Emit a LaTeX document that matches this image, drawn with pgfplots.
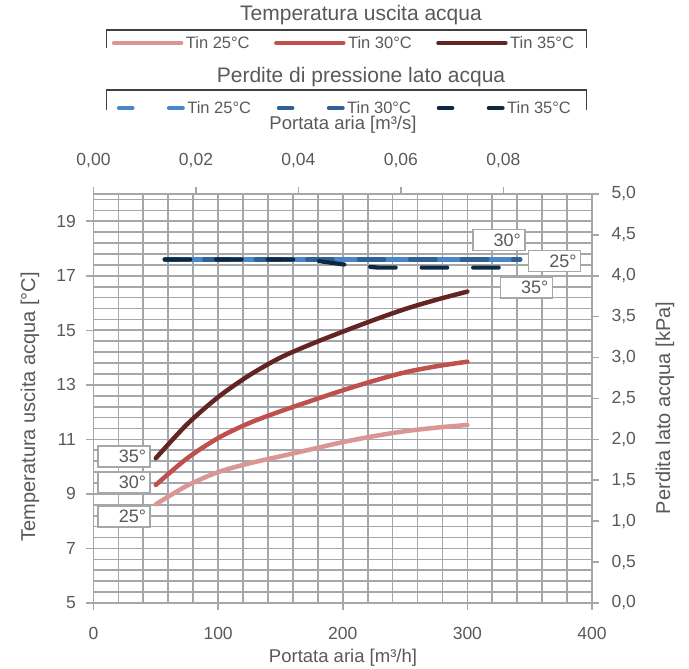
\documentclass[border=0pt]{standalone}
\usepackage{fontspec}
\setmainfont{Liberation Sans}
\usepackage{pgfplots}
\pgfplotsset{compat=1.18}
\definecolor{txt}{HTML}{595959}
\definecolor{gridc}{HTML}{A5A8AB}
\definecolor{brk}{HTML}{404040}
\definecolor{rA}{HTML}{D99694}
\definecolor{rB}{HTML}{C0504D}
\definecolor{rC}{HTML}{632523}
\definecolor{bA}{HTML}{4A86C8}
\definecolor{bB}{HTML}{2F6096}
\definecolor{bC}{HTML}{0E2841}
\tikzset{lbl/.style={draw=gridc, line width=1.6pt, fill=white, text=txt,
  font=\fontsize{18}{20}\selectfont, text width=44pt, align=right,
  inner xsep=4pt, inner ysep=0pt, minimum height=21pt}}
\begin{document}
\begin{tikzpicture}
\useasboundingbox (-93.5pt,-66pt) rectangle (595.5pt,603pt);
\begin{axis}[
  at={(0pt,0pt)}, anchor=south west,
  width=498.5pt, height=409pt, scale only axis,
  xmin=0, xmax=400, ymin=5, ymax=20,
  xtick={0,100,200,300,400}, ytick={5,7,9,11,13,15,17,19},
  minor xtick={20,40,...,380},
  minor ytick={5.4,5.8,6.2,6.6,7.4,7.8,8.2,8.6,9.4,9.8,10.2,10.6,11.4,11.8,12.2,12.6,13.4,13.8,14.2,14.6,15.4,15.8,16.2,16.6,17.4,17.8,18.2,18.6,19.4,19.8},
  grid=both,
  major grid style={gridc, line width=1.7pt},
  minor grid style={gridc, line width=1.7pt},
  axis line style={gridc, line width=1.7pt},
  tick pos=left, tick align=outside,
  major tick length=7pt, minor tick length=0pt,
  tick style={gridc, line width=1.6pt},
  /pgf/number format/assume math mode=true,
  tick label style={font=\fontsize{17.5}{20}\selectfont, text=txt},
  xticklabel style={yshift=-14pt},
  yticklabel style={xshift=-7pt},
  label style={text=txt},
  xlabel={Portata aria [m³/h]},
  ylabel={Temperatura uscita acqua [°C]},
  xlabel style={font=\fontsize{18.5}{20}\selectfont, at={(axis description cs:0.5005,-0.1345)}, anchor=center},
  ylabel style={font=\fontsize{20}{22}\selectfont, at={(axis description cs:-0.1274,0.48)}, anchor=center},
  clip=false,
  legend columns=3,
  legend style={at={(axis description cs:0.0365,1.3692)}, anchor=west,
    draw=none, fill=none, inner sep=0pt, font=\fontsize{16.5}{20}\selectfont, text=txt,
    nodes={inner sep=2.5pt},
    /tikz/every even column/.append style={column sep=21.9pt}},
  legend image code/.code={\path (0pt,0pt) -- (67pt,0pt);\draw[#1, line cap=round] (2.25pt,0pt) -- (62.75pt,0pt);},
]
\addplot[rA, line width=4.5pt, line cap=round, smooth] coordinates {
(50,8.62)(75,9.3)(100,9.8)(125,10.12)(150,10.38)(175,10.64)(200,10.9)(225,11.12)(250,11.3)(275,11.43)(300,11.53)};
\addlegendentry{Tin 25°C}
\addplot[rB, line width=4.5pt, line cap=round, smooth] coordinates {
(50,9.33)(75,10.3)(100,11.05)(125,11.6)(150,12.03)(175,12.42)(200,12.8)(225,13.15)(250,13.46)(275,13.68)(300,13.85)};
\addlegendentry{Tin 30°C}
\addplot[rC, line width=4.5pt, line cap=round, smooth] coordinates {
(50,10.31)(75,11.55)(100,12.55)(125,13.35)(150,14.0)(175,14.5)(200,14.95)(225,15.38)(250,15.78)(275,16.12)(300,16.42)};
\addlegendentry{Tin 35°C}
\node[lbl] at (axis cs:24.5,10.38) {35°};
\node[lbl] at (axis cs:24.5,9.43) {30°};
\node[lbl] at (axis cs:24.5,8.18) {25°};
\end{axis}
\begin{axis}[
  at={(0pt,0pt)}, anchor=south west,
  width=498.5pt, height=409pt, scale only axis,
  xmin=0, xmax=0.0973, ymin=0, ymax=5,
  axis x line*=top, axis y line*=right,
  xtick={0,0.02,0.04,0.06,0.08}, ytick={0,0.5,1,1.5,2,2.5,3,3.5,4,4.5,5},
  scaled x ticks=false, scaled y ticks=false,
  axis line style={gridc, line width=1.7pt, -},
  tick align=outside, major tick length=7pt,
  tick style={gridc, line width=1.6pt},
  /pgf/number format/assume math mode=true,
  tick label style={font=\fontsize{17.5}{20}\selectfont, text=txt},
  xticklabel style={yshift=16pt, /pgf/number format/fixed, /pgf/number format/fixed zerofill, /pgf/number format/precision=2, /pgf/number format/use comma},
  yticklabel style={xshift=9pt, /pgf/number format/fixed, /pgf/number format/fixed zerofill, /pgf/number format/precision=1, /pgf/number format/use comma},
  label style={text=txt},
  xlabel={Portata aria [m³/s]},
  ylabel={Perdita lato acqua [kPa]},
  xlabel style={font=\fontsize{18.5}{20}\selectfont, at={(axis description cs:0.5005,1.1687)}, anchor=center},
  ylabel style={font=\fontsize{20}{22}\selectfont, at={(axis description cs:1.1464,0.477)}, anchor=center},
  clip=false,
  legend columns=3,
  legend style={at={(axis description cs:0.0465,1.2103)}, anchor=west,
    draw=none, fill=none, inner sep=0pt, font=\fontsize{16.5}{20}\selectfont, text=txt,
    nodes={inner sep=2.5pt},
    /tikz/every even column/.append style={column sep=23.2pt}},
  legend image code/.code={\draw[#1, solid, line cap=round] (2.25pt,0pt) -- (15.75pt,0pt) (52.25pt,0pt) -- (66pt,0pt);},
]
\addplot[bA, line width=4.2pt, line cap=round, dash pattern=on 25.5pt off 26pt, dash phase=37.75pt] coordinates {
(0.01389,4.2)(0.02083,4.2)(0.02778,4.2)(0.03472,4.2)(0.04167,4.2)(0.04861,4.2)(0.05556,4.2)(0.0625,4.2)(0.06944,4.2)(0.07639,4.2)(0.08333,4.2)};
\addlegendentry{Tin 25°C}
\addplot[bB, line width=4.2pt, line cap=round, dash pattern=on 25.5pt off 26pt, dash phase=12pt] coordinates {
(0.01389,4.2)(0.02083,4.2)(0.02778,4.2)(0.03472,4.2)(0.04167,4.2)(0.04861,4.2)(0.05556,4.2)(0.0625,4.2)(0.06944,4.2)(0.07639,4.2)(0.08333,4.2)};
\addlegendentry{Tin 30°C}
\addplot[bC, line width=4.2pt, line cap=round, dash pattern=on 25.5pt off 26pt] coordinates {
(0.01389,4.2)(0.02083,4.2)(0.02778,4.2)(0.03472,4.2)(0.04167,4.2)(0.04861,4.14)(0.05556,4.1)(0.0625,4.1)(0.06944,4.1)(0.07639,4.1)(0.08333,4.1)};
\addlegendentry{Tin 35°C}
\node[lbl] at (axis cs:0.0791,4.44) {30°};
\node[lbl] at (axis cs:0.0900,4.18) {25°};
\node[lbl] at (axis cs:0.0845,3.86) {35°};
\end{axis}
\node[text=txt, font=\fontsize{21}{23}\selectfont] at (267.5pt,588pt) {Temperatura uscita acqua};
\node[text=txt, font=\fontsize{21}{23}\selectfont] at (267.5pt,526.3pt) {Perdite di pressione lato acqua};
\draw[brk, line width=1.1pt] (13.2pt,555pt) |- (493.2pt,573pt) -- (493.2pt,555pt);
\draw[brk, line width=1.1pt] (13.2pt,493pt) |- (493.2pt,513pt) -- (493.2pt,493pt);
\end{tikzpicture}
\end{document}
